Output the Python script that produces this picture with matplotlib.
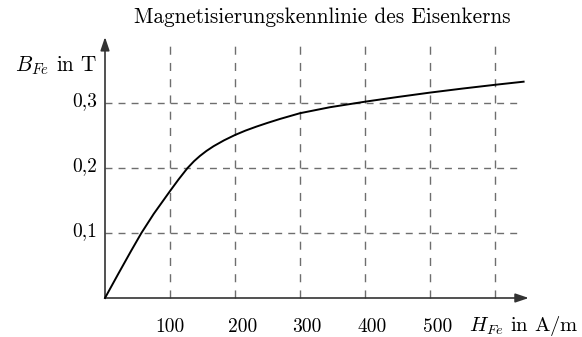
import numpy as np
import matplotlib
matplotlib.use('Agg')
import matplotlib.pyplot as plt

# =========================================================
# DATA
# =========================================================

H_FE = [0, 20, 40, 56, 75, 100, 113, 127, 137, 146, 156, 167, 183, 200, 216, 233,
        250, 269, 300, 346, 400, 450, 500, 550, 600, 644]
B_FE = [0, 0.0364, 0.0722, 0.100, 0.1295, 0.1645, 0.1822, 0.200, 0.2105, 0.2185,
        0.2262, 0.2335, 0.2425, 0.2508, 0.2575, 0.2637, 0.2694, 0.2754, 0.2843,
        0.2935, 0.3020, 0.3092, 0.3160, 0.3222, 0.3280, 0.3328]

X_TICKS  = [100, 200, 300, 400, 500]
X_LABELS = ['100', '200', '300', '400', '500']
Y_TICKS  = [0.1, 0.2, 0.3]
Y_LABELS = ['0,1', '0,2', '0,3']
X_GRID   = [100, 200, 300, 400, 500, 600]
Y_GRID   = [0.1, 0.2, 0.3]

TITLE   = 'Magnetisierungskennlinie des Eisenkerns'
X_LABEL = r'$H_{Fe}$ in A/m'
Y_LABEL = r'$B_{Fe}$ in T'

# =========================================================
# LAYOUT
# =========================================================

W, HGT, DPI = 582, 337, 100
X0_PX, Y0_PX = 105, 298          # origin in pixels
PX_PER_H = 0.65                  # px per A/m
PX_PER_B = 650                   # px per T

X_MAX_GRID = 638
Y_MAX_GRID = 0.389
X_ARROW    = 652
Y_ARROW    = 0.4015
X_LABEL_SHIFT = [0, 11, 11, 11, 11]

plt.rcParams['font.family'] = 'serif'
plt.rcParams['font.serif'] = ['cmr10']
plt.rcParams['mathtext.fontset'] = 'cm'
plt.rcParams['axes.formatter.use_mathtext'] = True
FS_TXT = 15.3
FS_NUM = 14.0


def px_h(px):
    return (px - X0_PX) / PX_PER_H


def px_b(py):
    return (Y0_PX - py) / PX_PER_B


fig = plt.figure(figsize=(W / DPI, HGT / DPI), dpi=DPI)
ax = fig.add_axes([0, 0, 1, 1])
ax.set_xlim(px_h(0), px_h(W))
ax.set_ylim(px_b(HGT), px_b(0))
ax.axis('off')

grid_kw = dict(color='#6e6e6e', lw=1.0)
for x in X_GRID:
    ax.plot([x, x], [0, Y_MAX_GRID], dashes=(5.8, 5.9), **grid_kw)
for y in Y_GRID:
    ax.plot([0, X_MAX_GRID], [y, y], dashes=(5.0, 4.4), **grid_kw)

arr = dict(arrowstyle='-|>,head_length=0.8,head_width=0.27', color='#333333',
           lw=1.2, mutation_scale=10, shrinkA=0, shrinkB=0)
ax.annotate('', xy=(X_ARROW, 0), xytext=(0, 0), arrowprops=arr)
ax.annotate('', xy=(0, Y_ARROW), xytext=(0, 0), arrowprops=arr)

ax.plot(H_FE, B_FE, color='black', lw=1.4, solid_joinstyle='round', zorder=5)

for x, lab, dx in zip(X_TICKS, X_LABELS, X_LABEL_SHIFT):
    ax.text(x + dx, px_b(331.5), lab, ha='center', va='baseline', fontsize=FS_NUM)
for y, lab in zip(Y_TICKS, Y_LABELS):
    ax.text(px_h(97), y - 3.4 / PX_PER_B, lab, ha='right', va='baseline', fontsize=FS_NUM)

ax.text(px_h(97), px_b(71.7), Y_LABEL, ha='right', va='baseline', fontsize=FS_TXT)
ax.text(px_h(579), px_b(331.5), X_LABEL, ha='right', va='baseline', fontsize=14.8)
ax.text(px_h(322), px_b(22.7), TITLE, ha='center', va='baseline', fontsize=FS_TXT)

fig.savefig('out.png', dpi=DPI)
